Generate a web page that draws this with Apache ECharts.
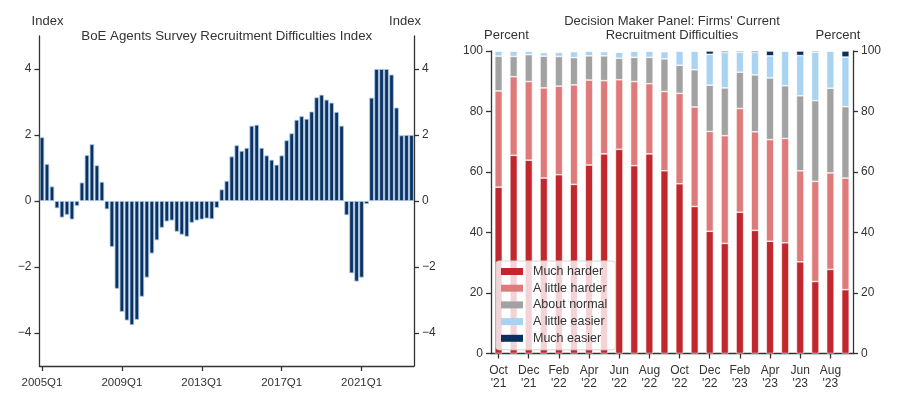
<!DOCTYPE html>
<html>
<head>
<meta charset="utf-8">
<script src="https://cdn.jsdelivr.net/npm/echarts@6/dist/echarts.min.js"></script>
<style>
  html, body { margin: 0; padding: 0; background: #fff; }
  #main { width: 903px; height: 407px; }
</style>
</head>
<body>
<div id="main"></div>
<script>
// 左图: BoE Agents 季度数据 (2005Q1 - 2023Q3)
var agentsStartYear = 2005;
var agentsIndex = [
    1.93, 1.12, 0.44, -0.22,
    -0.50, -0.42, -0.56, -0.15,
    0.56, 1.39, 1.72, 1.08,
    0.58, -0.25, -1.39, -2.66,
    -3.36, -3.62, -3.76, -3.60,
    -2.90, -2.32, -1.59, -1.19,
    -0.81, -0.62, -0.59, -0.93,
    -1.02, -1.08, -0.66, -0.59,
    -0.56, -0.53, -0.55, -0.21,
    0.35, 0.61, 1.35, 1.69,
    1.52, 1.61, 2.28, 2.31,
    1.61, 1.38, 1.25, 1.10,
    1.38, 1.84, 2.05, 2.46,
    2.57, 2.49, 2.71, 3.14,
    3.22, 3.07, 2.98, 2.70,
    2.28, -0.43, -2.19, -2.44,
    -2.32, -0.09, 3.13, 4.00,
    4.00, 4.00, 3.83, 2.83,
    1.99, 2.00, 2.00
];
var agentsTicks = [-4, -2, 0, 2, 4];

// 季度标签
var quarters = [];
for (var i = 0; i < agentsIndex.length; i++) {
    quarters.push((agentsStartYear + Math.floor(i / 4)) + 'Q' + (i % 4 + 1));
}

// 右图: DMP 月度数据 (Oct 21 - Sep 23)
var months = ["Oct\n'21", "Nov\n'21", "Dec\n'21", "Jan\n'22", "Feb\n'22", "Mar\n'22",
    "Apr\n'22", "May\n'22", "Jun\n'22", "Jul\n'22", "Aug\n'22", "Sep\n'22",
    "Oct\n'22", "Nov\n'22", "Dec\n'22", "Jan\n'23", "Feb\n'23", "Mar\n'23",
    "Apr\n'23", "May\n'23", "Jun\n'23", "Jul\n'23", "Aug\n'23", "Sep\n'23"];
var muchHarder = [55.0, 65.5, 63.9, 58.0, 59.1, 55.9, 62.3, 66.0, 67.5, 62.1, 66.0, 60.4,
    56.1, 48.6, 40.4, 36.4, 46.7, 40.7, 37.1, 36.6, 30.3, 23.8, 27.8, 21.1];
var littleHarder = [31.8, 26.0, 26.0, 29.8, 29.3, 32.9, 28.1, 24.2, 23.0, 27.8, 23.2, 26.2,
    29.9, 32.9, 33.0, 35.6, 34.3, 32.6, 33.6, 34.5, 30.1, 33.1, 31.9, 36.9];
var aboutNormal = [11.5, 6.7, 8.9, 10.5, 9.8, 9.0, 8.0, 8.2, 7.1, 8.0, 8.7, 10.8,
    9.3, 12.3, 15.3, 15.8, 12.0, 18.8, 20.4, 17.4, 24.8, 26.7, 28.0, 23.6];
var littleEasier = [1.7, 1.8, 1.2, 1.2, 1.4, 2.0, 1.6, 1.4, 2.0, 2.1, 2.1, 2.4,
    4.7, 6.2, 10.2, 11.7, 6.6, 7.4, 7.3, 11.5, 13.3, 16.0, 12.3, 16.4];
var muchEasier = [0, 0, 0, 0, 0, 0, 0, 0, 0, 0, 0, 0,
    0, 0, 1.1, 0.5, 0.4, 0.5, 1.6, 0, 1.5, 0.4, 0, 2.0];

var txt = '#333';
var axisLn = { show: true, lineStyle: { color: '#333', width: 1.3 } };
var axisTk = { show: true, length: 5, lineStyle: { color: '#333', width: 1.3 } };
var fontName = 'Liberation Sans';

function dmpSeries(name, data, color) {
    return {
        name: name,
        type: 'bar',
        stack: 'dmp',
        xAxisIndex: 1,
        yAxisIndex: 2,
        barWidth: 7.5,
        data: data,
        itemStyle: { color: color, borderColor: '#fff', borderWidth: 0.6 }
    };
}

function yAxisAgents(pos) {
    return {
        type: 'value',
        gridIndex: 0,
        position: pos,
        min: -5,
        max: 5,
        axisLine: axisLn,
        axisTick: { show: true, length: 5, lineStyle: { color: '#333', width: 1.3 }, customValues: agentsTicks },
        axisLabel: { color: txt, fontSize: 12, fontFamily: fontName, customValues: agentsTicks,
            formatter: function (v) { return v < 0 ? '\u2212' + (-v) : String(v); } },
        splitLine: { show: false }
    };
}

function yAxisDmp(pos) {
    return {
        type: 'value',
        gridIndex: 1,
        position: pos,
        min: 0,
        max: 100,
        interval: 20,
        axisLine: axisLn,
        axisTick: axisTk,
        axisLabel: { color: txt, fontSize: 12, fontFamily: fontName },
        splitLine: { show: false }
    };
}

var chart = echarts.init(document.getElementById('main'));
var option = {
    animation: false,
    textStyle: { fontFamily: fontName },
    grid: [
        { left: 39.5, right: 489, top: 36, bottom: 41 },
        { left: 491, right: 50, top: 51, bottom: 53.5 }
    ],
    graphic: [
        { type: 'text', x: 47.5, y: 21, style: { text: 'Index', fontSize: 13, fill: txt, fontFamily: fontName, align: 'center', verticalAlign: 'middle' } },
        { type: 'text', x: 405, y: 21, style: { text: 'Index', fontSize: 13, fill: txt, fontFamily: fontName, align: 'center', verticalAlign: 'middle' } },
        { type: 'text', x: 226.75, y: 36.5, style: { text: 'BoE Agents Survey Recruitment Difficulties Index', fontSize: 13.3, fill: txt, fontFamily: fontName, align: 'center', verticalAlign: 'middle' } },
        { type: 'text', x: 672, y: 21, style: { text: "Decision Maker Panel: Firms' Current", fontSize: 13, fill: txt, fontFamily: fontName, align: 'center', verticalAlign: 'middle' } },
        { type: 'text', x: 672, y: 35, style: { text: 'Recruitment Difficulties', fontSize: 13, fill: txt, fontFamily: fontName, align: 'center', verticalAlign: 'middle' } },
        { type: 'text', x: 506.5, y: 35, style: { text: 'Percent', fontSize: 13, fill: txt, fontFamily: fontName, align: 'center', verticalAlign: 'middle' } },
        { type: 'text', x: 838, y: 35, style: { text: 'Percent', fontSize: 13, fill: txt, fontFamily: fontName, align: 'center', verticalAlign: 'middle' } }
    ],
    legend: {
        orient: 'vertical',
        left: 496,
        top: 261,
        itemWidth: 22,
        itemHeight: 7,
        itemGap: 3.7,
        padding: [4, 8, 5, 5],
        backgroundColor: 'rgba(255,255,255,0.8)',
        borderColor: '#d4d4d4',
        borderWidth: 1,
        borderRadius: 3,
        icon: 'rect',
        itemStyle: { borderWidth: 0 },
        textStyle: { color: txt, fontSize: 12.5, fontFamily: fontName, padding: [0, 0, 0, 5] },
        data: ['Much harder', 'A little harder', 'About normal', 'A little easier', 'Much easier']
    },
    xAxis: [
        {
            type: 'category',
            gridIndex: 0,
            data: quarters,
            axisLine: { show: true, onZero: false, lineStyle: { color: '#333', width: 1.3 } },
            axisTick: { show: true, length: 5, interval: 15, alignWithLabel: true, lineStyle: { color: '#333', width: 1.3 } },
            axisLabel: { interval: 15, color: txt, fontSize: 11.5, fontFamily: fontName, margin: 11 }
        },
        {
            type: 'category',
            gridIndex: 1,
            data: months,
            axisLine: { show: true, onZero: false, lineStyle: { color: '#333', width: 1.3 } },
            axisTick: { show: true, length: 5, interval: 1, alignWithLabel: true, lineStyle: { color: '#333', width: 1.3 } },
            axisLabel: { interval: 1, color: txt, fontSize: 12, fontFamily: fontName, margin: 11, lineHeight: 13 }
        }
    ],
    yAxis: [
        yAxisAgents('left'),
        yAxisAgents('right'),
        yAxisDmp('left'),
        yAxisDmp('right')
    ],
    series: [
        {
            name: 'Agents',
            type: 'bar',
            xAxisIndex: 0,
            yAxisIndex: 0,
            barWidth: 4.5,
            data: agentsIndex,
            itemStyle: { color: '#0b3161', borderColor: '#a9c9e8', borderWidth: 0.8 }
        },
        dmpSeries('Much harder', muchHarder, '#c1272d'),
        dmpSeries('A little harder', littleHarder, '#df7a7b'),
        dmpSeries('About normal', aboutNormal, '#a2a2a2'),
        dmpSeries('A little easier', littleEasier, '#a9d3f2'),
        dmpSeries('Much easier', muchEasier, '#0b2f5e')
    ]
};
chart.setOption(option);
</script>
</body>
</html>
